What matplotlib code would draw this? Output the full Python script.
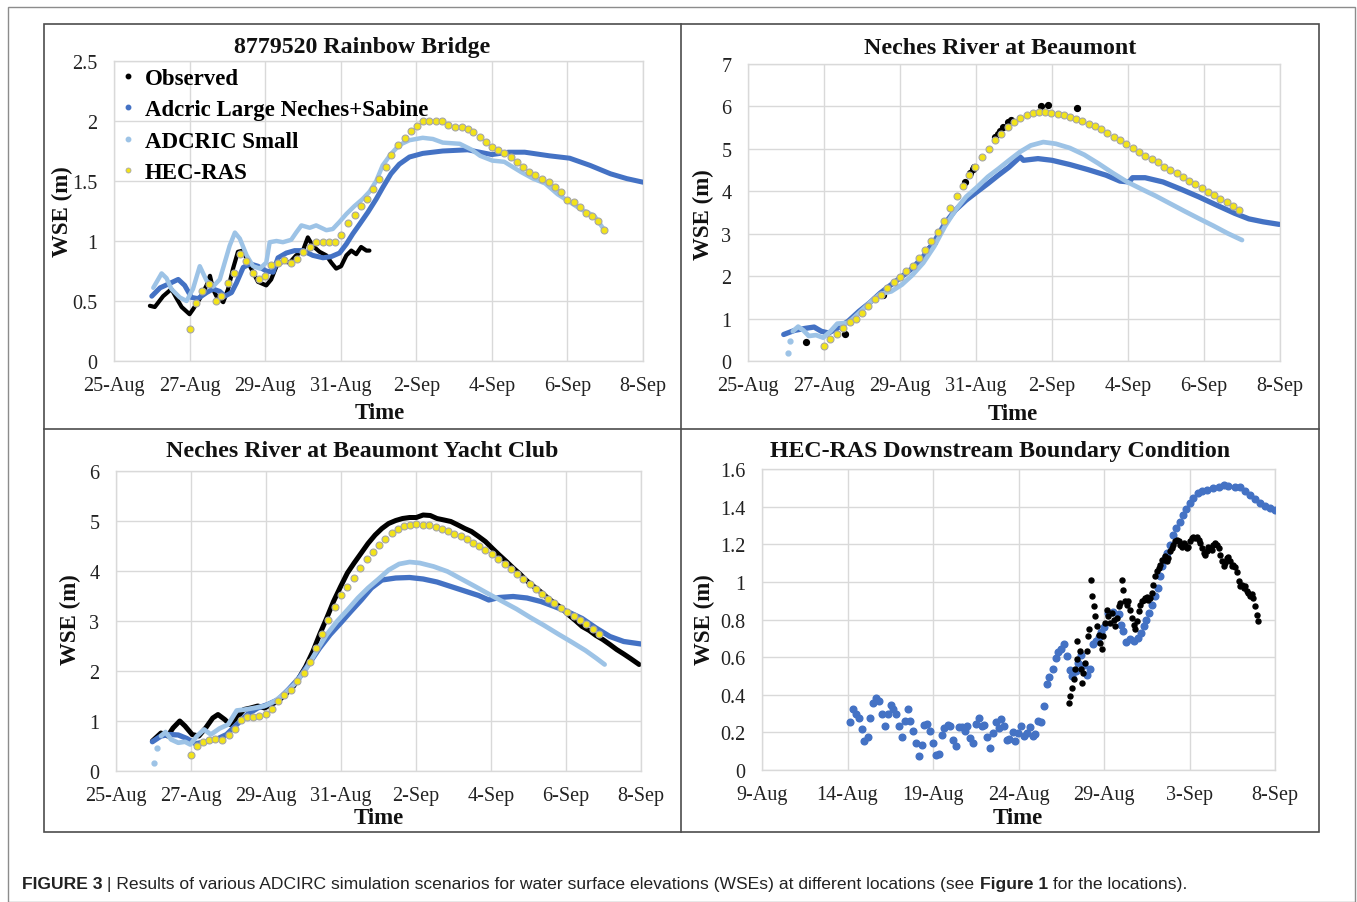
import matplotlib
matplotlib.use('Agg')
import matplotlib.pyplot as plt
from matplotlib.lines import Line2D

# ---------------- data (days since 25-Aug for panels 1-3; days since 9-Aug for panel 4)
dates_a = ['25-Aug', '27-Aug', '29-Aug', '31-Aug', '2-Sep', '4-Sep', '6-Sep', '8-Sep']
dates_b = ['9-Aug', '14-Aug', '19-Aug', '24-Aug', '29-Aug', '3-Sep', '8-Sep']
series_names = ['Observed', 'Adcric Large Neches+Sabine', 'ADCRIC Small', 'HEC-RAS']
titles = ['8779520 Rainbow Bridge', 'Neches River at Beaumont',
          'Neches River at Beaumont Yacht Club', 'HEC-RAS Downstream Boundary Condition']

# Panel 1: 8779520 Rainbow Bridge
p1_obs_t = [0.95, 1.08, 1.30, 1.52, 1.66, 1.79, 2.0, 2.09, 2.27, 2.45, 2.54, 2.62, 2.71, 2.89, 3.02, 3.15, 3.28, 3.42,
            3.55, 3.68, 3.81, 4.03, 4.16, 4.30, 4.47, 4.65, 4.82, 5.0, 5.13, 5.26, 5.44, 5.62, 5.75, 5.88, 6.01, 6.15,
            6.28, 6.41, 6.54, 6.68, 6.76]
p1_obs_v = [0.46, 0.45, 0.54, 0.60, 0.52, 0.45, 0.39, 0.43, 0.52, 0.63, 0.71, 0.60, 0.54, 0.49, 0.60, 0.77, 0.91, 0.92,
            0.82, 0.74, 0.66, 0.63, 0.68, 0.79, 0.83, 0.82, 0.88, 0.92, 1.03, 0.96, 0.91, 0.88, 0.82, 0.77, 0.79, 0.88,
            0.92, 0.89, 0.95, 0.92, 0.92]
p1_large_t = [1.0, 1.22, 1.43, 1.70, 1.87, 2.05, 2.22, 2.45, 2.62, 2.80, 2.93, 3.11, 3.24, 3.42, 3.60, 3.81, 4.03, 4.21,
              4.34, 4.56, 4.78, 5.0, 5.26, 5.53, 5.75, 5.97, 6.15, 6.32, 6.50, 6.72, 6.94, 7.12, 7.33, 7.55, 7.82, 8.17,
              8.70, 9.36, 10.0, 10.44, 10.87, 11.52, 12.06, 12.6, 13.14, 13.57, 14.0]
p1_large_v = [0.54, 0.61, 0.64, 0.68, 0.63, 0.53, 0.52, 0.57, 0.60, 0.58, 0.54, 0.57, 0.65, 0.78, 0.81, 0.79, 0.75, 0.74,
              0.86, 0.90, 0.92, 0.92, 0.88, 0.86, 0.87, 0.90, 0.975, 1.06, 1.14, 1.24, 1.35, 1.45, 1.56, 1.64, 1.70,
              1.73, 1.75, 1.76, 1.72, 1.74, 1.74, 1.71, 1.69, 1.63, 1.56, 1.52, 1.49]
p1_small_t = [1.04, 1.26, 1.39, 1.52, 1.74, 1.92, 2.09, 2.27, 2.45, 2.62, 2.80, 3.06, 3.20, 3.33, 3.51, 3.68, 3.86, 4.03,
              4.12, 4.30, 4.47, 4.69, 4.82, 4.96, 5.18, 5.35, 5.62, 5.79, 5.97, 6.15, 6.36, 6.58, 6.76, 6.94, 7.11, 7.33,
              7.55, 7.82, 8.17, 8.44, 8.70, 9.15, 9.47, 9.69, 10.01, 10.33, 10.77, 11.09, 11.41, 11.74, 12.06, 12.38,
              12.71, 12.98]
p1_small_v = [0.61, 0.73, 0.69, 0.60, 0.53, 0.50, 0.60, 0.79, 0.67, 0.62, 0.68, 0.96, 1.07, 1.02, 0.88, 0.79, 0.77, 0.82,
              0.99, 1.0, 0.99, 1.01, 1.07, 1.13, 1.11, 1.13, 1.09, 1.10, 1.16, 1.225, 1.29, 1.35, 1.41, 1.50, 1.63,
              1.725, 1.80, 1.84, 1.86, 1.85, 1.82, 1.81, 1.76, 1.71, 1.67, 1.66, 1.575, 1.52, 1.48, 1.39, 1.325, 1.26,
              1.21, 1.09]
p1_hec_t = [2.0, 2.18, 2.33, 2.51, 2.69, 2.84, 3.01, 3.17, 3.34, 3.50, 3.68, 3.84, 4.0, 4.16, 4.34, 4.51, 4.69, 4.84,
            5.0, 5.18, 5.35, 5.53, 5.68, 5.84, 6.01, 6.19, 6.37, 6.53, 6.69, 6.85, 7.01, 7.19, 7.34, 7.52, 7.69, 7.85,
            8.02, 8.18, 8.34, 8.51, 8.69, 8.84, 9.02, 9.2, 9.36, 9.5, 9.69, 9.85, 10.0, 10.17, 10.33, 10.5, 10.66,
            10.82, 10.98, 11.14, 11.33, 11.52, 11.68, 11.84, 12.0, 12.17, 12.33, 12.49, 12.65, 12.82, 12.98]
p1_hec_v = [0.27, 0.48, 0.58, 0.64, 0.50, 0.54, 0.65, 0.73, 0.89, 0.83, 0.73, 0.68, 0.71, 0.80, 0.82, 0.84, 0.82, 0.85,
            0.91, 0.95, 0.99, 0.99, 0.99, 0.99, 1.05, 1.15, 1.22, 1.29, 1.35, 1.43, 1.52, 1.62, 1.72, 1.80, 1.86, 1.92,
            1.96, 2.0, 2.0, 2.0, 2.0, 1.97, 1.95, 1.95, 1.93, 1.91, 1.87, 1.825, 1.78, 1.76, 1.73, 1.70, 1.66, 1.62,
            1.575, 1.55, 1.52, 1.49, 1.45, 1.41, 1.34, 1.325, 1.28, 1.23, 1.21, 1.17, 1.09]

# Panel 2: Neches River at Beaumont
p2_obs_t = [1.53, 2.54, 3.56, 4.80, 4.90, 5.72, 5.84, 5.91, 5.95, 6.50, 6.57, 6.64, 6.70, 6.83, 6.92, 7.70, 7.89, 8.66]
p2_obs_v = [0.45, 0.625, 1.55, 2.66, 2.81, 4.22, 4.42, 4.53, 4.57, 5.28, 5.36, 5.43, 5.51, 5.63, 5.67, 6.02, 6.04, 5.96]
p2_large_t = [0.94, 1.22, 1.51, 1.74, 1.93, 2.12, 2.35, 2.64, 2.92, 3.20, 3.48, 3.77, 4.05, 4.33, 4.61, 4.90, 5.18, 5.46,
              5.74, 6.03, 6.31, 6.59, 6.87, 7.16, 7.25, 7.63, 8.0, 8.47, 8.95, 9.42, 9.79, 10.03, 10.12, 10.45, 10.92,
              11.39, 11.86, 12.34, 12.81, 13.18, 13.56, 13.98]
p2_large_v = [0.625, 0.72, 0.77, 0.80, 0.70, 0.66, 0.77, 0.94, 1.17, 1.37, 1.60, 1.80, 1.99, 2.19, 2.46, 2.81, 3.24, 3.56,
              3.79, 3.99, 4.18, 4.38, 4.57, 4.81, 4.73, 4.77, 4.73, 4.63, 4.51, 4.38, 4.24, 4.22, 4.32, 4.32, 4.22, 4.05,
              3.87, 3.67, 3.48, 3.35, 3.28, 3.22]
p2_small_t = [1.04, 1.10, 1.18, 1.32, 1.46, 1.60, 1.79, 1.98, 2.17, 2.35, 2.64, 2.92, 3.20, 3.48, 3.77, 4.05, 4.33, 4.61,
              4.90, 5.18, 5.46, 5.74, 6.03, 6.31, 6.59, 6.87, 7.16, 7.44, 7.77, 8.10, 8.47, 8.85, 9.23, 9.60, 9.98,
              10.36, 10.73, 11.11, 11.49, 11.86, 12.24, 12.62, 13.0]
p2_small_v = [0.195, 0.48, 0.70, 0.81, 0.72, 0.59, 0.61, 0.55, 0.70, 0.88, 0.90, 1.13, 1.37, 1.58, 1.64, 1.80, 2.03, 2.31,
              2.70, 3.17, 3.56, 3.87, 4.10, 4.34, 4.53, 4.73, 4.93, 5.08, 5.16, 5.12, 5.02, 4.86, 4.65, 4.43, 4.22, 4.05,
              3.89, 3.71, 3.53, 3.36, 3.19, 3.01, 2.85]
p2_hec_t = [2.0, 2.17, 2.34, 2.51, 2.68, 2.84, 3.01, 3.17, 3.34, 3.50, 3.67, 3.84, 4.0, 4.17, 4.33, 4.49, 4.66, 4.82,
            4.99, 5.16, 5.32, 5.49, 5.65, 5.82, 5.98, 6.17, 6.33, 6.50, 6.67, 6.83, 7.0, 7.16, 7.33, 7.49, 7.66, 7.82,
            7.98, 8.15, 8.31, 8.47, 8.64, 8.80, 8.97, 9.13, 9.30, 9.46, 9.63, 9.79, 9.96, 10.12, 10.29, 10.45, 10.62,
            10.78, 10.95, 11.11, 11.28, 11.44, 11.61, 11.77, 11.94, 12.10, 12.27, 12.43, 12.60, 12.76, 12.93]
p2_hec_v = [0.35, 0.52, 0.64, 0.77, 0.91, 1.0, 1.13, 1.29, 1.45, 1.56, 1.72, 1.86, 1.97, 2.11, 2.25, 2.42, 2.62, 2.83,
            3.05, 3.30, 3.60, 3.89, 4.13, 4.38, 4.58, 4.80, 5.0, 5.20, 5.36, 5.51, 5.63, 5.72, 5.80, 5.84, 5.86, 5.86,
            5.85, 5.81, 5.79, 5.75, 5.71, 5.65, 5.59, 5.53, 5.46, 5.38, 5.29, 5.22, 5.12, 5.02, 4.93, 4.83, 4.75, 4.68,
            4.57, 4.50, 4.42, 4.34, 4.24, 4.16, 4.07, 3.99, 3.91, 3.82, 3.74, 3.65, 3.55]

# Panel 3: Neches River at Beaumont Yacht Club
p3_obs_t = [0.97, 1.20, 1.38, 1.52, 1.70, 1.84, 2.03, 2.21, 2.39, 2.58, 2.72, 2.90, 3.04, 3.22, 3.41, 3.59, 3.78, 3.96,
            4.14, 4.33, 4.51, 4.70, 4.88, 5.06, 5.25, 5.43, 5.62, 5.80, 5.99, 6.17, 6.35, 6.54, 6.72, 6.91, 7.09, 7.27,
            7.46, 7.64, 7.83, 8.01, 8.19, 8.38, 8.56, 8.75, 8.93, 9.12, 9.30, 9.48, 9.67, 9.85, 10.04, 10.22, 10.41,
            10.59, 10.77, 10.96, 11.14, 11.33, 11.51, 11.69, 11.88, 12.06, 12.25, 12.43, 12.62, 12.80, 12.98, 13.17,
            13.35, 13.54, 13.72, 13.95]
p3_obs_v = [0.60, 0.76, 0.70, 0.86, 1.0, 0.90, 0.73, 0.70, 0.86, 1.06, 1.13, 1.03, 0.93, 1.06, 1.23, 1.26, 1.30, 1.26,
            1.33, 1.40, 1.53, 1.66, 1.86, 2.09, 2.39, 2.73, 3.06, 3.39, 3.69, 3.96, 4.16, 4.36, 4.55, 4.72, 4.85, 4.95,
            5.01, 5.05, 5.07, 5.07, 5.12, 5.11, 5.05, 5.02, 4.99, 4.92, 4.85, 4.79, 4.69, 4.59, 4.45, 4.32, 4.19, 4.06,
            3.94, 3.80, 3.69, 3.58, 3.46, 3.36, 3.26, 3.13, 3.01, 2.89, 2.81, 2.71, 2.63, 2.53, 2.43, 2.34, 2.25, 2.13]
p3_large_t = [0.97, 1.20, 1.43, 1.66, 1.89, 2.12, 2.39, 2.67, 2.95, 3.22, 3.50, 3.78, 4.05, 4.33, 4.60, 4.88, 5.16, 5.43,
              5.71, 5.99, 6.26, 6.54, 6.81, 7.09, 7.46, 7.83, 8.19, 8.56, 8.93, 9.30, 9.67, 9.94, 10.22, 10.59, 10.96,
              11.33, 11.69, 12.06, 12.43, 12.80, 13.17, 13.54, 14.0]
p3_large_v = [0.585, 0.70, 0.73, 0.72, 0.65, 0.545, 0.585, 0.63, 0.73, 0.93, 1.13, 1.26, 1.33, 1.43, 1.63, 1.86, 2.16,
              2.46, 2.73, 2.96, 3.19, 3.42, 3.66, 3.82, 3.86, 3.87, 3.84, 3.78, 3.69, 3.60, 3.51, 3.42, 3.47, 3.49, 3.46,
              3.39, 3.29, 3.18, 3.05, 2.86, 2.69, 2.59, 2.54]
p3_small_t = [1.01, 1.09, 1.20, 1.32, 1.47, 1.66, 1.84, 1.98, 2.16, 2.35, 2.53, 2.76, 2.99, 3.22, 3.45, 3.68, 3.96, 4.24,
              4.51, 4.79, 5.06, 5.34, 5.62, 5.89, 6.17, 6.45, 6.72, 7.0, 7.27, 7.55, 7.83, 8.10, 8.47, 8.84, 9.21, 9.58,
              9.94, 10.31, 10.68, 11.05, 11.42, 11.79, 12.15, 12.52, 12.80, 13.03]
p3_small_v = [0.166, 0.465, 0.70, 0.78, 0.63, 0.565, 0.585, 0.53, 0.70, 0.83, 0.73, 0.85, 0.93, 1.21, 1.23, 1.26, 1.30,
              1.40, 1.56, 1.76, 2.03, 2.39, 2.73, 2.99, 3.22, 3.46, 3.66, 3.84, 4.02, 4.14, 4.18, 4.16, 4.09, 3.99, 3.84,
              3.69, 3.54, 3.39, 3.24, 3.07, 2.91, 2.74, 2.58, 2.41, 2.26, 2.13]
p3_hec_t = [1.99, 2.16, 2.32, 2.49, 2.65, 2.83, 3.0, 3.16, 3.32, 3.49, 3.66, 3.82, 4.0, 4.17, 4.33, 4.49, 4.66, 4.83,
            5.0, 5.16, 5.32, 5.49, 5.66, 5.83, 5.99, 6.17, 6.34, 6.50, 6.68, 6.84, 7.01, 7.18, 7.35, 7.51, 7.68, 7.85,
            8.01, 8.18, 8.35, 8.52, 8.68, 8.85, 9.02, 9.19, 9.36, 9.52, 9.69, 9.85, 10.02, 10.19, 10.36, 10.52, 10.69,
            10.86, 11.03, 11.20, 11.36, 11.53, 11.69, 11.87, 12.03, 12.20, 12.37, 12.53, 12.71, 12.87]
p3_hec_v = [0.33, 0.51, 0.585, 0.63, 0.65, 0.63, 0.72, 0.85, 1.03, 1.08, 1.09, 1.10, 1.14, 1.25, 1.40, 1.52, 1.63, 1.80,
            1.96, 2.18, 2.47, 2.74, 3.03, 3.29, 3.52, 3.68, 3.87, 4.07, 4.24, 4.39, 4.52, 4.65, 4.77, 4.85, 4.91, 4.93,
            4.94, 4.93, 4.92, 4.89, 4.85, 4.81, 4.75, 4.70, 4.64, 4.57, 4.51, 4.42, 4.34, 4.24, 4.14, 4.04, 3.94, 3.84,
            3.74, 3.64, 3.54, 3.44, 3.36, 3.27, 3.19, 3.11, 3.03, 2.94, 2.85, 2.75]

# Panel 4: HEC-RAS Downstream Boundary Condition
p4_bc_t = [5.16, 5.33, 5.49, 5.68, 5.84, 5.99, 6.17, 6.33, 6.50, 6.69, 6.85, 7.01, 7.18, 7.34, 7.53, 7.69, 7.84, 8.02,
           8.18, 8.35, 8.51, 8.66, 8.84, 9.01, 9.19, 9.35, 9.50, 9.67, 9.83, 10.01, 10.16, 10.34, 10.50, 10.66, 10.85,
           11.0, 11.18, 11.33, 11.51, 11.68, 11.86, 12.01, 12.17, 12.34, 12.50, 12.70, 12.85, 12.99, 13.18, 13.34,
           13.51, 13.67, 13.84, 14.0, 14.16, 14.31, 14.47, 14.65, 14.82, 14.98, 15.15, 15.32, 15.48, 15.66, 15.83,
           15.99, 16.16, 16.32, 16.49, 16.65, 16.81, 17.0, 17.18, 17.33, 17.51, 17.67, 17.84, 18.0, 18.15, 18.35,
           18.50, 18.68, 18.84, 19.01, 19.18, 19.34, 19.51, 19.71, 19.85, 20.0, 20.26, 20.52, 20.85, 20.98, 21.14,
           21.30, 21.53, 21.76, 21.98, 22.15, 22.31, 22.47, 22.64, 22.82, 22.99, 23.13, 23.25, 23.38, 23.58, 23.71,
           23.87, 24.06, 24.22, 24.42, 24.61, 24.81, 25.04, 25.23, 25.47, 25.72, 26.01, 26.40, 26.70, 26.99, 27.28,
           27.67, 27.96, 28.26, 28.55, 28.84, 29.13, 29.42, 29.72, 30.0]
p4_bc_v = [0.253, 0.324, 0.30, 0.276, 0.22, 0.155, 0.173, 0.278, 0.354, 0.383, 0.369, 0.296, 0.235, 0.297, 0.347,
           0.324, 0.297, 0.232, 0.176, 0.262, 0.324, 0.262, 0.208, 0.146, 0.075, 0.132, 0.239, 0.244, 0.208, 0.146,
           0.078, 0.087, 0.185, 0.223, 0.239, 0.235, 0.160, 0.128, 0.226, 0.226, 0.208, 0.232, 0.171, 0.142, 0.244,
           0.274, 0.235, 0.239, 0.173, 0.118, 0.196, 0.256, 0.221, 0.271, 0.232, 0.160, 0.167, 0.203, 0.153, 0.199,
           0.235, 0.182, 0.199, 0.226, 0.182, 0.191, 0.262, 0.253, 0.338, 0.458, 0.493, 0.538, 0.595, 0.627, 0.641,
           0.671, 0.606, 0.529, 0.502, 0.524, 0.568, 0.609, 0.559, 0.506, 0.538, 0.671, 0.684, 0.707, 0.734, 0.760,
           0.835, 0.838, 0.831, 0.773, 0.738, 0.68, 0.694, 0.685, 0.702, 0.729, 0.764, 0.80, 0.835, 0.879, 0.923,
           0.967, 1.029, 1.082, 1.126, 1.153, 1.197, 1.25, 1.285, 1.32, 1.356, 1.386, 1.418, 1.444, 1.47, 1.485,
           1.488, 1.497, 1.506, 1.515, 1.51, 1.506, 1.502, 1.485, 1.462, 1.439, 1.418, 1.404, 1.391, 1.382]
p4_obs_t = [17.98, 18.02, 18.12, 18.22, 18.31, 18.41, 18.45, 18.57, 18.65, 18.71, 18.80, 18.90, 19.0, 19.09, 19.15,
            19.23, 19.29, 19.39, 19.48, 19.58, 19.68, 19.78, 19.87, 19.97, 20.07, 20.17, 20.26, 20.36, 20.46, 20.56,
            20.65, 20.75, 20.85, 20.95, 21.04, 21.14, 21.24, 21.34, 21.43, 21.53, 21.63, 21.73, 21.82, 21.92, 22.02,
            22.11, 22.21, 22.31, 22.41, 22.50, 22.60, 22.70, 22.80, 22.89, 22.99, 23.09, 23.19, 23.28, 23.38, 23.48,
            23.58, 23.67, 23.77, 23.87, 23.97, 24.06, 24.16, 24.26, 24.36, 24.45, 24.55, 24.65, 24.75, 24.84, 24.94,
            25.04, 25.14, 25.23, 25.33, 25.43, 25.53, 25.62, 25.72, 25.82, 25.92, 26.01, 26.11, 26.21, 26.31, 26.40,
            26.50, 26.60, 26.70, 26.79, 26.89, 26.99, 27.09, 27.18, 27.28, 27.38, 27.48, 27.57, 27.67, 27.77, 27.87,
            27.96, 28.06, 28.16, 28.26, 28.35, 28.45, 28.55, 28.65, 28.74, 28.84, 28.94, 29.0]
p4_obs_v = [0.358, 0.393, 0.438, 0.482, 0.535, 0.588, 0.685, 0.632, 0.535, 0.464, 0.517, 0.57, 0.632, 0.711, 0.747,
            1.012, 0.923, 0.87, 0.817, 0.764, 0.72, 0.676, 0.641, 0.711, 0.782, 0.853, 0.817, 0.782, 0.835, 0.80,
            0.764, 0.808, 0.87, 0.888, 1.012, 0.958, 0.897, 0.879, 0.897, 0.853, 0.808, 0.773, 0.747, 0.79, 0.844,
            0.879, 0.897, 0.906, 0.914, 0.918, 0.906, 0.914, 0.94, 0.985, 1.029, 1.056, 1.073, 1.091, 1.117, 1.117,
            1.135, 1.109, 1.126, 1.162, 1.179, 1.197, 1.215, 1.223, 1.215, 1.197, 1.188, 1.206, 1.197, 1.179, 1.188,
            1.215, 1.232, 1.241, 1.232, 1.241, 1.223, 1.206, 1.179, 1.153, 1.144, 1.162, 1.185, 1.179, 1.170, 1.197,
            1.206, 1.197, 1.179, 1.144, 1.109, 1.086, 1.10, 1.126, 1.131, 1.109, 1.082, 1.091, 1.079, 1.05, 1.003,
            0.976, 0.985, 0.967, 0.976, 0.95, 0.941, 0.927, 0.937, 0.914, 0.87, 0.826, 0.79]

# ---------------- styling
C_OBS = '#000000'
C_LARGE = '#4472C4'
C_SMALL = '#9DC3E6'
C_HEC = '#F2E31A'
C_HEC_EDGE = '#A6A6A6'
C_GRID = '#D9D9D9'
SERIF = ['Liberation Serif', 'DejaVu Serif']
SANS = ['Liberation Sans', 'DejaVu Sans']

plt.rcParams['font.family'] = SERIF

W, H = 1357, 903
fig = plt.figure(figsize=(W / 100, H / 100), dpi=100)


def fx(x):
    return x / W


def fy(y):
    return 1 - y / H


def add_axes(l, r, t, b):
    return fig.add_axes([fx(l), fy(b), (r - l) / W, (b - t) / H])


def style(ax, xmax, xstep, xlabels, ymax, ystep, ylabels):
    ax.set_xlim(0, xmax)
    ax.set_ylim(0, ymax)
    ax.set_xticks([i * xstep for i in range(len(xlabels))])
    ax.set_xticklabels(xlabels)
    ax.set_yticks([i * ystep for i in range(len(ylabels))])
    ax.set_yticklabels(ylabels)
    ax.grid(True, color=C_GRID, lw=1.0)
    ax.set_axisbelow(True)
    for s in ax.spines.values():
        s.set_color(C_GRID)
        s.set_linewidth(1.0)
    ax.tick_params(length=0, labelsize=14.5, colors='#222222')
    ax.tick_params(axis='x', pad=11)
    ax.tick_params(axis='y', pad=12)


def draw_line(ax, t, v, color, lw, z):
    ax.plot(t, v, color=color, lw=lw, solid_capstyle='round', solid_joinstyle='round', zorder=z)


def draw_hec(ax, t, v):
    ax.plot(t, v, ls='none', marker='o', ms=5.0, mfc=C_HEC, mec=C_HEC_EDGE, mew=0.8, zorder=5)


def text_px(x, y, s, **kw):
    fig.text(fx(x), fy(y), s, **kw)


lab_a = dates_a
yl1 = ['0', '0.5', '1', '1.5', '2', '2.5']
yl2 = [str(i) for i in range(8)]
yl3 = [str(i) for i in range(7)]
yl4 = ['0', '0.2', '0.4', '0.6', '0.8', '1', '1.2', '1.4', '1.6']

# ---- Panel 1
ax1 = add_axes(114, 643, 62, 362)
style(ax1, 14, 2, lab_a, 2.5, 0.5, yl1)
draw_line(ax1, p1_obs_t, p1_obs_v, C_OBS, 3.0, 2)
draw_line(ax1, p1_large_t, p1_large_v, C_LARGE, 3.6, 3)
draw_line(ax1, p1_small_t, p1_small_v, C_SMALL, 3.2, 4)
draw_hec(ax1, p1_hec_t, p1_hec_v)

handles = [
    Line2D([], [], ls='none', marker='o', ms=3.2, color=C_OBS),
    Line2D([], [], ls='none', marker='o', ms=3.2, color=C_LARGE),
    Line2D([], [], ls='none', marker='o', ms=3.2, color=C_SMALL),
    Line2D([], [], ls='none', marker='o', ms=3.6, mfc=C_HEC, mec=C_HEC_EDGE, mew=0.6),
]
ax1.legend(handles, series_names, loc='upper left', bbox_to_anchor=(0.0, 1.0), frameon=False,
           prop={'family': SERIF, 'weight': 'bold', 'size': 16.5}, handlelength=0.6, handletextpad=0.45,
           labelspacing=0.45, borderaxespad=0.0, borderpad=0.3)

# ---- Panel 2
ax2 = add_axes(748, 1280, 65, 362)
style(ax2, 14, 2, lab_a, 7, 1, yl2)
ax2.plot(p2_obs_t, p2_obs_v, ls='none', marker='o', ms=4.2, color=C_OBS, zorder=2)
draw_line(ax2, p2_large_t, p2_large_v, C_LARGE, 3.8, 3)
draw_line(ax2, p2_small_t[2:], p2_small_v[2:], C_SMALL, 3.4, 4)
ax2.plot(p2_small_t[:2], p2_small_v[:2], ls='none', marker='o', ms=3.5, color=C_SMALL, zorder=4)
draw_hec(ax2, p2_hec_t, p2_hec_v)

# ---- Panel 3
ax3 = add_axes(116, 641, 472, 772)
style(ax3, 14, 2, lab_a, 6, 1, yl3)
draw_line(ax3, p3_obs_t, p3_obs_v, C_OBS, 3.6, 2)
draw_line(ax3, p3_large_t, p3_large_v, C_LARGE, 3.8, 3)
draw_line(ax3, p3_small_t[2:], p3_small_v[2:], C_SMALL, 3.4, 4)
ax3.plot(p3_small_t[:2], p3_small_v[:2], ls='none', marker='o', ms=3.5, color=C_SMALL, zorder=4)
draw_hec(ax3, p3_hec_t, p3_hec_v)

# ---- Panel 4
ax4 = add_axes(762, 1275, 470, 771)
style(ax4, 30, 5, dates_b, 1.6, 0.2, yl4)
ax4.plot(p4_bc_t, p4_bc_v, ls='none', marker='o', ms=4.8, color=C_LARGE, zorder=3)
ax4.plot(p4_obs_t, p4_obs_v, ls='none', marker='o', ms=3.6, color=C_OBS, zorder=4)

# ---- titles and axis labels
tkw = dict(family=SERIF, weight='bold', size=17.2, ha='center', va='center', color='#111111')
text_px(362, 48, titles[0], **tkw)
text_px(1000, 48, titles[1], **tkw)
text_px(362, 452, titles[2], **tkw)
text_px(1000, 452, titles[3], **tkw)

lkw = dict(family=SERIF, weight='bold', size=16.5, ha='center', va='center', color='#111111')
text_px(380, 414, 'Time', **lkw)
text_px(1013, 415, 'Time', **lkw)
text_px(379, 819, 'Time', **lkw)
text_px(1018, 819, 'Time', **lkw)
text_px(62, 212, 'WSE (m)', rotation=90, **lkw)
text_px(703, 215, 'WSE (m)', rotation=90, **lkw)
text_px(70, 620, 'WSE (m)', rotation=90, **lkw)
text_px(704, 620, 'WSE (m)', rotation=90, **lkw)

# ---- frames
frame_outer = plt.Rectangle((fx(8), fy(903)), (1355 - 8) / W, (903 - 8) / H, transform=fig.transFigure,
                            fill=False, ec='#8C8C8C', lw=1.0)
fig.add_artist(frame_outer)
frame_inner = plt.Rectangle((fx(44), fy(833)), (1319 - 44) / W, (833 - 25) / H, transform=fig.transFigure,
                            fill=False, ec='#4D4D4D', lw=1.2)
fig.add_artist(frame_inner)
fig.add_artist(Line2D([fx(681), fx(681)], [fy(25), fy(833)], transform=fig.transFigure, color='#4D4D4D', lw=1.2))
fig.add_artist(Line2D([fx(44), fx(1319)], [fy(430), fy(430)], transform=fig.transFigure, color='#4D4D4D', lw=1.2))

# ---- caption
CAP = 12.6
cap_bold = fig.text(fx(22), fy(885), 'FIGURE 3', family=SANS, weight='bold', size=CAP, va='center', ha='left',
                    color='#222222')
fig.canvas.draw()
bb = cap_bold.get_window_extent()
cap_rest = ' | Results of various ADCIRC simulation scenarios for water surface elevations (WSEs) at different locations (see '
t2 = fig.text(bb.x1 / W, fy(885), cap_rest, family=SANS, size=CAP, va='center', ha='left', color='#222222')
fig.canvas.draw()
bb2 = t2.get_window_extent()
t3 = fig.text(bb2.x1 / W, fy(885), 'Figure 1', family=SANS, weight='bold', size=CAP, va='center', ha='left',
              color='#222222')
fig.canvas.draw()
bb3 = t3.get_window_extent()
fig.text(bb3.x1 / W, fy(885), ' for the locations).', family=SANS, size=CAP, va='center', ha='left',
         color='#222222')

fig.savefig('out.png', dpi=100)
